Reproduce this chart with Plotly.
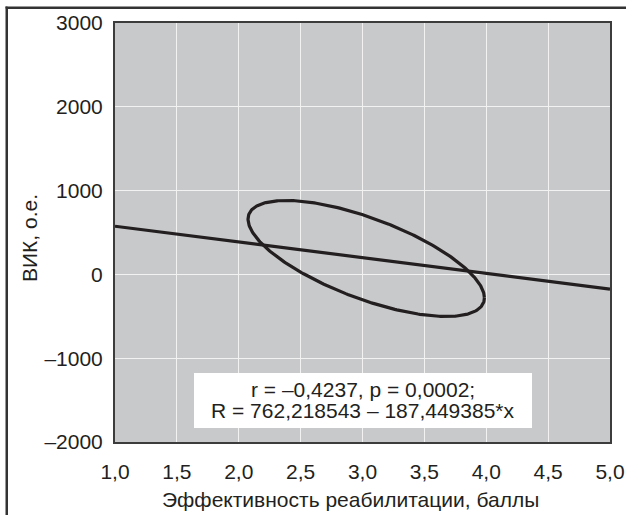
import numpy as np
import plotly.graph_objects as go

# ---- data ----
x_ticks = [1.0, 1.5, 2.0, 2.5, 3.0, 3.5, 4.0, 4.5, 5.0]
x_tick_labels = ["1,0", "1,5", "2,0", "2,5", "3,0", "3,5", "4,0", "4,5", "5,0"]
y_ticks = [-2000, -1000, 0, 1000, 2000, 3000]
y_tick_labels = ["–2000", "–1000", "0", "1000", "2000", "3000"]

# regression line R = 762,218543 – 187,449385*x drawn across the axis
line_x = [1.0, 5.0]
line_y = [574.8, -174.8]

# confidence ellipse: centre, half extents, phase cosine
ell_center_x = 3.03
ell_center_y = 190.0
ell_half_x = 0.955
ell_half_y = 692.0
ell_cos_phase = -0.678

stats_line1 = "r = –0,4237, p = 0,0002;"
stats_line2 = "R = 762,218543 – 187,449385*x"
x_title = "Эффективность реабилитации, баллы"
y_title = "ВИК, о.е."

# ---- build ellipse outline ----
t = np.linspace(0, 2 * np.pi, 361)
delta = np.arccos(ell_cos_phase)
ex = ell_center_x + ell_half_x * np.cos(t)
ey = ell_center_y + ell_half_y * np.cos(t - delta)

INK = "#231f20"
FONT = "Liberation Sans, Arial, Helvetica, sans-serif"
FS = 21

fig = go.Figure()
fig.add_trace(go.Scatter(x=line_x, y=line_y, mode="lines",
                         line=dict(color=INK, width=3.2), hoverinfo="skip", showlegend=False))
fig.add_trace(go.Scatter(x=ex, y=ey, mode="lines",
                         line=dict(color=INK, width=3.2), hoverinfo="skip", showlegend=False))

W, H = 626, 515
L, R, T, B = 115, 16, 23, 73
pw, ph = W - L - R, H - T - B

def px_x(p):
    return (p - L) / pw

def px_y(p):
    return 1 - (p - T) / ph

fig.update_layout(
    width=W, height=H,
    autosize=False,
    margin=dict(l=L, r=R, t=T, b=B, pad=0, autoexpand=False),
    paper_bgcolor="white",
    plot_bgcolor="#c8c9cb",
    font=dict(family=FONT, size=FS, color=INK),
    xaxis=dict(range=[1, 5], tickvals=x_ticks, ticktext=x_tick_labels,
               showgrid=True, gridcolor="#f2f2f2", gridwidth=1,
               showline=True, mirror=True, linecolor="#3c3c3c", linewidth=2,
               zeroline=False, ticks="", ticklabelstandoff=10, automargin=False,
               tickfont=dict(size=FS, color=INK)),
    yaxis=dict(range=[-2000, 3000], tickvals=y_ticks, ticktext=y_tick_labels,
               showgrid=True, gridcolor="#f2f2f2", gridwidth=1,
               showline=True, mirror=True, linecolor="#3c3c3c", linewidth=2,
               zeroline=False, ticks="", ticklabelstandoff=6, automargin=False,
               tickfont=dict(size=FS, color=INK)),
    showlegend=False,
)

# white stats box
fig.add_shape(type="rect", xref="paper", yref="paper",
              x0=px_x(194), x1=px_x(532), y0=px_y(428), y1=px_y(373),
              fillcolor="white", line=dict(width=0), layer="above")
fig.add_annotation(xref="paper", yref="paper", x=px_x(363), y=px_y(389),
                   text=stats_line1, showarrow=False, xanchor="center", yanchor="middle",
                   font=dict(size=FS, color=INK))
fig.add_annotation(xref="paper", yref="paper", x=px_x(363), y=px_y(410),
                   text=stats_line2, showarrow=False, xanchor="center", yanchor="middle",
                   font=dict(size=FS, color=INK))

# axis titles
fig.add_annotation(xref="paper", yref="paper", x=px_x(350), y=px_y(499),
                   text=x_title, showarrow=False, xanchor="center", yanchor="middle",
                   font=dict(size=FS, color=INK))
fig.add_annotation(xref="paper", yref="paper", x=px_x(29), y=px_y(238),
                   text=y_title, showarrow=False, xanchor="center", yanchor="middle",
                   textangle=-90, font=dict(size=FS, color=INK))

# outer frame: top and left edges of a surrounding box
fig.add_shape(type="line", xref="paper", yref="paper",
              x0=px_x(5.5), x1=px_x(W + 5), y0=px_y(7.5), y1=px_y(7.5),
              line=dict(color="#333333", width=2.2), layer="above")
fig.add_shape(type="line", xref="paper", yref="paper",
              x0=px_x(6.5), x1=px_x(6.5), y0=px_y(6.5), y1=px_y(H + 5),
              line=dict(color="#333333", width=2), layer="above")

post = (
    "document.body.style.margin='0';"
    "document.body.style.overflow='hidden';"
    "var f=document.createElement('div');"
    "f.style.cssText='position:absolute;left:5.5px;top:6.5px;width:700px;height:600px;"
    "border-top:2px solid #333;border-left:2px solid #333;pointer-events:none;z-index:10;';"
    "document.body.appendChild(f);"
)
fig.write_html("out.html", config={"displayModeBar": False}, post_script=post)
